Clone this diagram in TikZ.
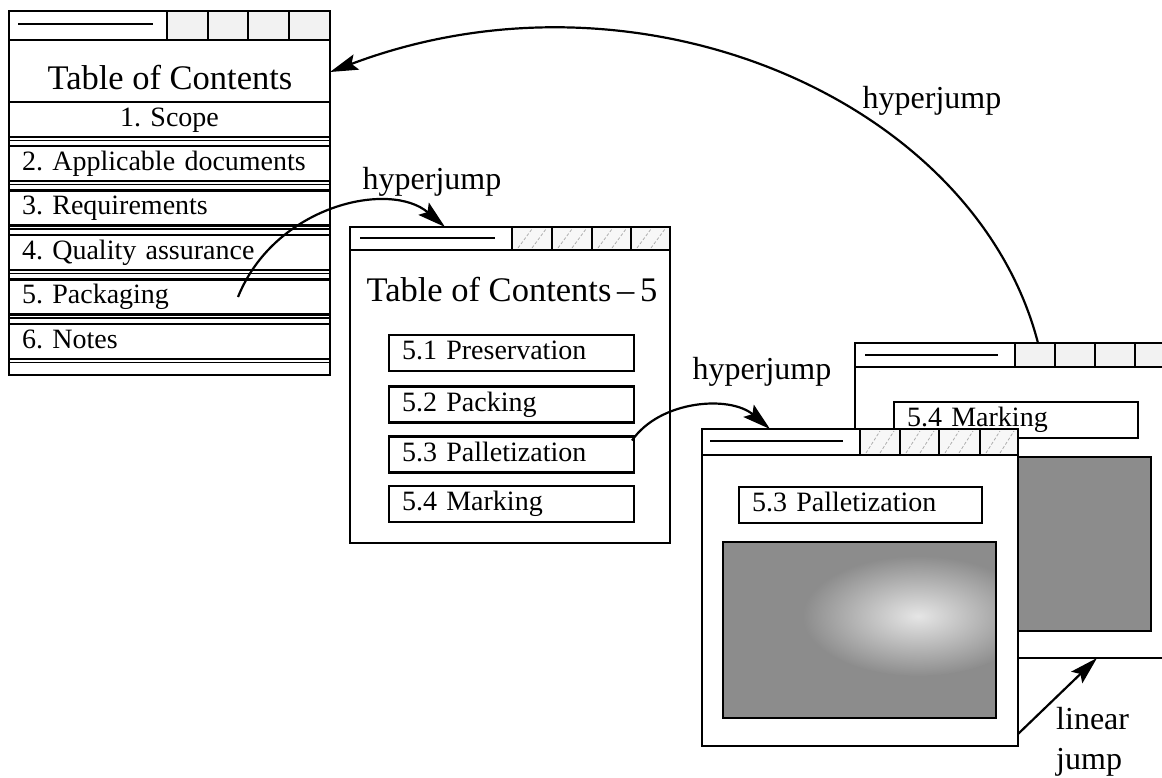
\documentclass[tikz,border=0pt]{standalone}
\usepackage{fontspec}
\setmainfont{Liberation Serif}
\usetikzlibrary{arrows.meta}
\newcommand\itemfont{\fontsize{28}{30}\selectfont}
\newcommand\ttlfont{\fontsize{34.5}{38}\selectfont}
\newcommand\labfont{\fontsize{32}{40}\selectfont}
\frenchspacing
\tikzset{
  win/.style={draw, line width=2.5pt, fill=white, inner sep=0pt, outer sep=0pt, anchor=north west},
  itembox/.style={draw, line width=2.2pt, fill=white, inner xsep=13pt, inner ysep=0pt, outer sep=0pt,
    anchor=north west, font=\itemfont, align=left, text height=19pt, text depth=6pt},
  barline/.style={line width=2.2pt},
  tline/.style={line width=2pt},
  btn/.style={line width=2pt},
  thinline/.style={line width=1.2pt},
  hatch/.style={gray!70, line width=0.7pt, dash pattern=on 3pt off 2pt},
  arr/.style={line width=2.2pt, -{Stealth[length=28pt,width=16pt,inset=5pt]}},
  lab/.style={font=\labfont, inner sep=0pt},
  ttl/.style={font=\ttlfont, inner sep=0pt},
  pic/.style={fill=black!45, line width=2.2pt, draw}
}
\begin{document}
\begin{tikzpicture}[x=1pt,y=-1pt]
\useasboundingbox (0,0) rectangle (1162,777);
\clip (0,0) rectangle (1162,777);
\fill[white] (0,0) rectangle (1162,777);

% ---------- Window 1 ----------
\node[win, minimum width=321pt, minimum height=364pt] (w1) at (9,11) {};
\draw[barline] (9,40) -- (330,40);
\foreach \a/\b in {167/208,208/248,248/289,289/330}
  \draw[btn, fill=gray!10] (\a,11) rectangle (\b,40);
\draw[tline] (18,24) -- (153,24);
\node[ttl] (t1) at (170,78) {Table of Contents};
\node[itembox, align=center, text width=295pt, minimum height=35pt] (r1) at (9,102) {1. Scope};
\node[itembox, text width=295pt, minimum height=35pt] (r2) at (9,146) {2. Applicable documents};
\node[itembox, text width=295pt, minimum height=35pt] (r3) at (9,190.5) {3. Requirements};
\node[itembox, text width=295pt, minimum height=35pt] (r4) at (9,235) {4. Quality assurance};
\node[itembox, text width=295pt, minimum height=35pt] (r5) at (9,279.5) {5. Packaging};
\node[itembox, text width=295pt, minimum height=35pt] (r6) at (9,324) {6. Notes};
\foreach \y in {140.5,184.5,229,273.5,318,362.5}
  \draw[thinline] (9,\y) -- (330,\y);

% ---------- Window 2 ----------
\node[win, minimum width=320pt, minimum height=316pt] (w2) at (350,227) {};
\draw[barline] (350,250) -- (670,250);
\foreach \a/\b in {512/552,552/592,592/631,631/670}{
  \draw[btn, fill=gray!6] (\a,227) rectangle (\b,250);
  \draw[hatch] (\a+6,248) -- (\a+20,229);
  \draw[hatch] (\a+20,248) -- (\a+34,229);
}
\draw[tline] (360,238) -- (495,238);
\node[ttl] (t2) at (512,290) {Table of Contents\,–\,5};
\node[itembox, text width=219pt, minimum height=36pt] (s1) at (389,335) {5.1 Preservation};
\node[itembox, text width=219pt, minimum height=36pt] (s2) at (389,386.5) {5.2 Packing};
\node[itembox, text width=219pt, minimum height=36pt] (s3) at (389,436.5) {5.3 Palletization};
\node[itembox, text width=219pt, minimum height=36pt] (s4) at (389,486) {5.4 Marking};

% ---------- Window 4 (behind) ----------
\node[win, minimum width=330pt, minimum height=315pt] (w4) at (855,343) {};
\draw[barline] (855,367) -- (1185,367);
\foreach \a/\b in {1015/1055,1055/1095,1095/1135,1135/1175}
  \draw[btn, fill=gray!10] (\a,343) rectangle (\b,367);
\draw[tline] (865,355) -- (998,355);
\node[itembox, text width=218pt, minimum height=36pt] (m4) at (894,402) {5.4 Marking};
\path[pic] (990,457) rectangle (1151,631);

% ---------- Window 3 (front) ----------
\node[win, minimum width=316pt, minimum height=317pt] (w3) at (702,429) {};
\draw[barline] (702,455) -- (1018,455);
\foreach \a/\b in {860/900,900/939,939/980,980/1018}{
  \draw[btn, fill=gray!6] (\a,429) rectangle (\b,455);
  \draw[hatch] (\a+6,453) -- (\a+20,431);
  \draw[hatch] (\a+20,453) -- (\a+34,431);
}
\draw[tline] (710,441) -- (843,441);
\node[itembox, text width=217pt, minimum height=36pt] (p3) at (739,487) {5.3 Palletization};
\begin{scope}
  \clip (723,542) rectangle (996,718);
  \fill[black!45] (723,542) rectangle (996,718);
  \shade[inner color=black!10, outer color=black!45] (918,616) ellipse (115pt and 60pt);
\end{scope}
\draw[line width=2.2pt] (723,542) rectangle (996,718);

% ---------- Connectors ----------
\draw[arr] ([xshift=68.5pt]r5.center) .. controls (275,205) and (390,180) .. ([xshift=-65pt]w2.north);
\node[lab] (h1) at (432,182) {hyperjump};

\draw[arr] ([xshift=-2pt,yshift=14pt]s3.east) .. controls (660,400) and (730,395) .. ([xshift=-90pt]w3.north);
\node[lab] (h2) at (762,372) {hyperjump};

\draw[arr] ([xshift=18pt]w4.north) .. controls (975,100) and (640,-45) .. ([yshift=-61pt]w1.north east);
\node[lab] (h3) at (932,101) {hyperjump};

\draw[arr] ([yshift=12pt]w3.south east) -- ([xshift=77pt]w4.south);
\node[lab, align=left, anchor=west] (lj) at (1056,742) {linear\\jump};
\end{tikzpicture}
\end{document}
